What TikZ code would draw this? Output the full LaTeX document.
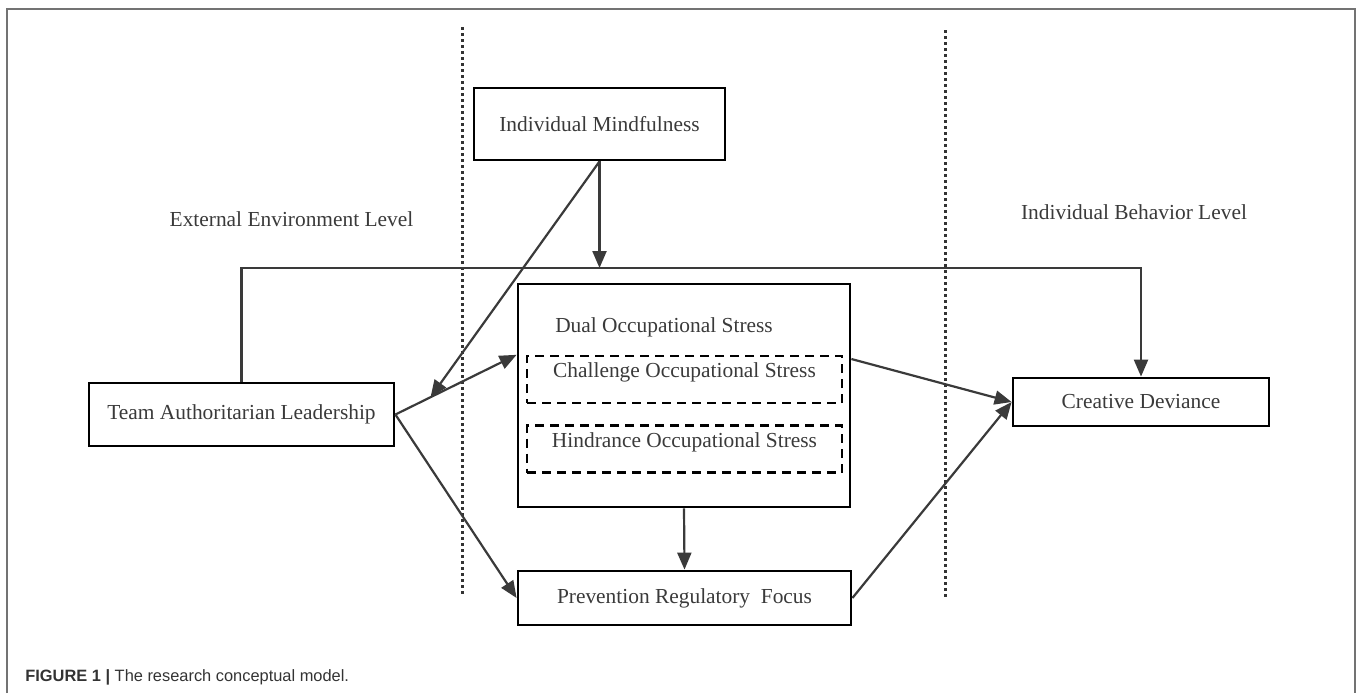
\documentclass[tikz,border=0pt]{standalone}
\usepackage{fontspec}
\setmainfont{Liberation Serif}
\newfontfamily\capfont{Liberation Sans}
\usetikzlibrary{arrows.meta}
\definecolor{ink}{HTML}{3A3A3A}

\begin{document}
\begin{tikzpicture}[x=0.5pt, y=-0.5pt, >={Triangle[length=8.5pt,width=7pt]},
    box/.style={draw=black, line width=1.4pt, inner sep=0pt, text=ink, font=\fontsize{10.7}{12}\selectfont},
    stressbox/.style={draw=black, dash pattern=on 4.5pt off 3pt, line width=1.2pt, inner sep=0pt,
        minimum width=157.5pt, minimum height=23.5pt, text height=7pt, text depth=9pt,
        text=ink, font=\fontsize{10.7}{12}\selectfont},
    conn/.style={draw=ink, line width=1.1pt},
    divider/.style={draw=black!80, dash pattern=on 1.5pt off 1.5pt, line width=1.5pt},
    lbl/.style={text=ink, font=\fontsize{10.7}{12}\selectfont}]
    \useasboundingbox (0,0) rectangle (1358,693);
    \draw[draw=black!55, line width=0.7pt] (7,693) -- (7,9) -- (1355,9) -- (1355,693);

    % level dividers
    \draw[divider] (462,27) -- (462,597);
    \draw[divider] (945,30) -- (945,600);
    \node[lbl] (extlevel) at (291.5,219) {External Environment Level};
    \node[lbl] (behlevel) at (1134,212) {Individual Behavior Level};

    % boxes
    \node[box, minimum width=125.5pt, minimum height=36pt] (mind) at (599.5,124) {Individual Mindfulness};
    \node[box, minimum width=152.5pt, minimum height=31.5pt] (tal) at (241.5,414.5) {Team Authoritarian Leadership};
    \node[box, minimum width=166pt, minimum height=111.5pt] (dual) at (684,395.5) {};
    \node[lbl] (dualtxt) at (664,327) {Dual Occupational Stress};
    \node[stressbox] (challenge) at (684.5,379.5) {Challenge Occupational Stress};
    \node[stressbox] (hindrance) at (684.5,449) {Hindrance Occupational Stress};
    \node[box, minimum width=128pt, minimum height=24pt] (cd) at (1141,402) {Creative Deviance};
    \node[box, minimum width=166.5pt, minimum height=27pt] (prev) at (684.5,598) {Prevention Regulatory~~Focus};

    % connectors
    \coordinate (rail) at (241.5,268);
    \draw[conn,->] (tal.east) -- coordinate[pos=0.29] (meet) (dual.west |- challenge.north);
    \draw[conn,->] (mind.south) -- (meet);
    \draw[conn,->] (mind.south) -- (mind.south |- rail);
    \draw[conn,->] (tal.north) -- (rail) -| (cd.north);
    \draw[conn,->] (tal.east) -- (prev.west);
    \draw[conn,->] (dual.east |- 0,359) -- (cd.west);
    \draw[conn,->] (prev.east) -- (cd.west);
    \draw[conn,->] (dual.south) -- (prev.north);

    \node[anchor=west, inner sep=0pt, text=black!80, font=\capfont\fontsize{8.2}{10}\selectfont] (caption) at (25,677)
        {\textbf{FIGURE 1 |} The research conceptual model.};
\end{tikzpicture}
\end{document}
